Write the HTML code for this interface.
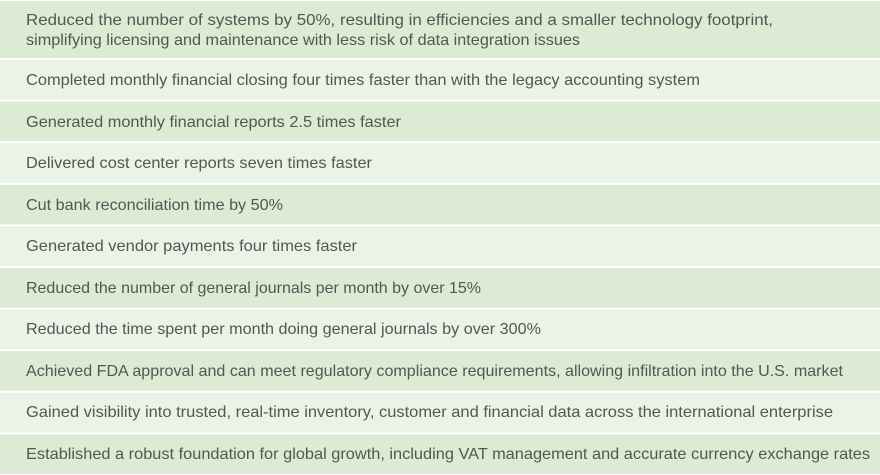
<!DOCTYPE html>
<html><head><meta charset="utf-8"><style>
html,body{margin:0;padding:0;background:#fff;width:880px;height:475px;overflow:hidden}
svg text{font-family:"Liberation Sans",sans-serif;font-size:16px;fill:#555}
</style></head><body>
<svg width="880" height="475" xmlns="http://www.w3.org/2000/svg">
<rect x="0" y="1" width="880" height="57" fill="#dcebd4"/>
<rect x="0" y="60" width="880" height="39.6" fill="#eaf3e5"/>
<rect x="0" y="101.6" width="880" height="39.6" fill="#dcebd4"/>
<rect x="0" y="143.2" width="880" height="39.6" fill="#eaf3e5"/>
<rect x="0" y="184.8" width="880" height="39.6" fill="#dcebd4"/>
<rect x="0" y="226.4" width="880" height="39.6" fill="#eaf3e5"/>
<rect x="0" y="268" width="880" height="39.6" fill="#dcebd4"/>
<rect x="0" y="309.6" width="880" height="39.6" fill="#eaf3e5"/>
<rect x="0" y="351.2" width="880" height="39.6" fill="#dcebd4"/>
<rect x="0" y="392.8" width="880" height="39.6" fill="#eaf3e5"/>
<rect x="0" y="434.4" width="880" height="39.6" fill="#dcebd4"/>
<text x="26" y="25" textLength="747" lengthAdjust="spacingAndGlyphs">Reduced the number of systems by 50%, resulting in efficiencies and a smaller technology footprint,</text>
<text x="26" y="45" textLength="554" lengthAdjust="spacingAndGlyphs">simplifying licensing and maintenance with less risk of data integration issues</text>
<text x="26" y="85" textLength="674" lengthAdjust="spacingAndGlyphs">Completed monthly financial closing four times faster than with the legacy accounting system</text>
<text x="26" y="127" textLength="375" lengthAdjust="spacingAndGlyphs">Generated monthly financial reports 2.5 times faster</text>
<text x="26" y="168" textLength="346" lengthAdjust="spacingAndGlyphs">Delivered cost center reports seven times faster</text>
<text x="26" y="210" textLength="257" lengthAdjust="spacingAndGlyphs">Cut bank reconciliation time by 50%</text>
<text x="26" y="251" textLength="331" lengthAdjust="spacingAndGlyphs">Generated vendor payments four times faster</text>
<text x="26" y="293" textLength="455" lengthAdjust="spacingAndGlyphs">Reduced the number of general journals per month by over 15%</text>
<text x="26" y="334" textLength="515" lengthAdjust="spacingAndGlyphs">Reduced the time spent per month doing general journals by over 300%</text>
<text x="26" y="376" textLength="817" lengthAdjust="spacingAndGlyphs">Achieved FDA approval and can meet regulatory compliance requirements, allowing infiltration into the U.S. market</text>
<text x="26" y="417" textLength="807" lengthAdjust="spacingAndGlyphs">Gained visibility into trusted, real-time inventory, customer and financial data across the international enterprise</text>
<text x="26" y="459" textLength="844" lengthAdjust="spacingAndGlyphs">Established a robust foundation for global growth, including VAT management and accurate currency exchange rates</text>
</svg>
</body></html>
